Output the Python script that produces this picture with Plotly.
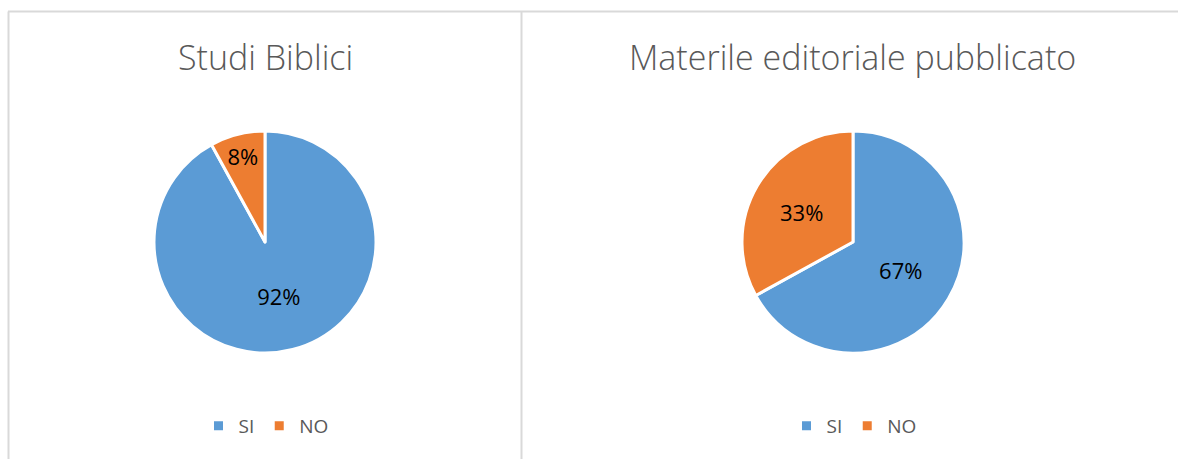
import plotly.graph_objects as go

# Survey answers per topic
categories = ["SI", "NO"]
studi_biblici = [92, 8]
materiale_editoriale = [67, 33]
titles = ["Studi Biblici", "Materile editoriale pubblicato"]

colors = ["#5B9BD5", "#ED7D31"]
font_family = "Open Sans, Noto Sans, sans-serif"

W, H = 1178, 459

fig = go.Figure()

pie_domains = [
    dict(x=[154 / W, 376 / W], y=[1 - 353 / H, 1 - 131 / H]),
    dict(x=[742 / W, 964 / W], y=[1 - 353 / H, 1 - 131 / H]),
]

for vals, dom in zip([studi_biblici, materiale_editoriale], pie_domains):
    fig.add_trace(go.Pie(
        labels=categories,
        values=vals,
        sort=False,
        direction="clockwise",
        rotation=0,
        domain=dom,
        marker=dict(colors=colors, line=dict(color="white", width=3)),
        texttemplate="%{percent:.0%}",
        textposition="inside",
        insidetextorientation="horizontal",
        textfont=dict(family=font_family, size=22, color="black"),
        hoverinfo="label+percent",
        showlegend=False,
    ))

# One legend under each pie (legend entries only, no visible points)
for legend_id in ["legend", "legend2"]:
    for cat, col in zip(categories, colors):
        fig.add_trace(go.Scatter(
            x=[None], y=[None],
            mode="markers",
            name=cat,
            marker=dict(symbol="square", size=9, color=col),
            legend=legend_id,
            showlegend=True,
            hoverinfo="skip",
        ))

legend_style = dict(
    orientation="h",
    xanchor="center",
    yanchor="middle",
    y=1 - 426 / H,
    font=dict(family=font_family, size=19, color="#595959"),
    bgcolor="rgba(0,0,0,0)",
    itemwidth=30,
)

# Chart titles
for title, dom in zip(titles, pie_domains):
    fig.add_annotation(
        text=title,
        x=(dom["x"][0] + dom["x"][1]) / 2,
        y=1 - 57 / H,
        xref="paper", yref="paper",
        xanchor="center", yanchor="middle",
        showarrow=False,
        font=dict(family=font_family, size=34, color="#595959", weight=300),
    )

# Panel borders
border = dict(color="#D9D9D9", width=2)
fig.add_shape(type="line", xref="paper", yref="paper",
              x0=8 / W, x1=1, y0=1 - 11.5 / H, y1=1 - 11.5 / H, line=border)
fig.add_shape(type="line", xref="paper", yref="paper",
              x0=8.5 / W, x1=8.5 / W, y0=0, y1=1 - 11.5 / H, line=border)
fig.add_shape(type="line", xref="paper", yref="paper",
              x0=521.5 / W, x1=521.5 / W, y0=0, y1=1 - 11.5 / H, line=border)

fig.update_layout(
    width=W,
    height=H,
    margin=dict(l=0, r=0, t=0, b=0),
    paper_bgcolor="white",
    plot_bgcolor="white",
    xaxis=dict(visible=False),
    yaxis=dict(visible=False),
    legend=dict(legend_style, x=266 / W),
    legend2=dict(legend_style, x=854 / W),
)

fig.write_html("out.html")
